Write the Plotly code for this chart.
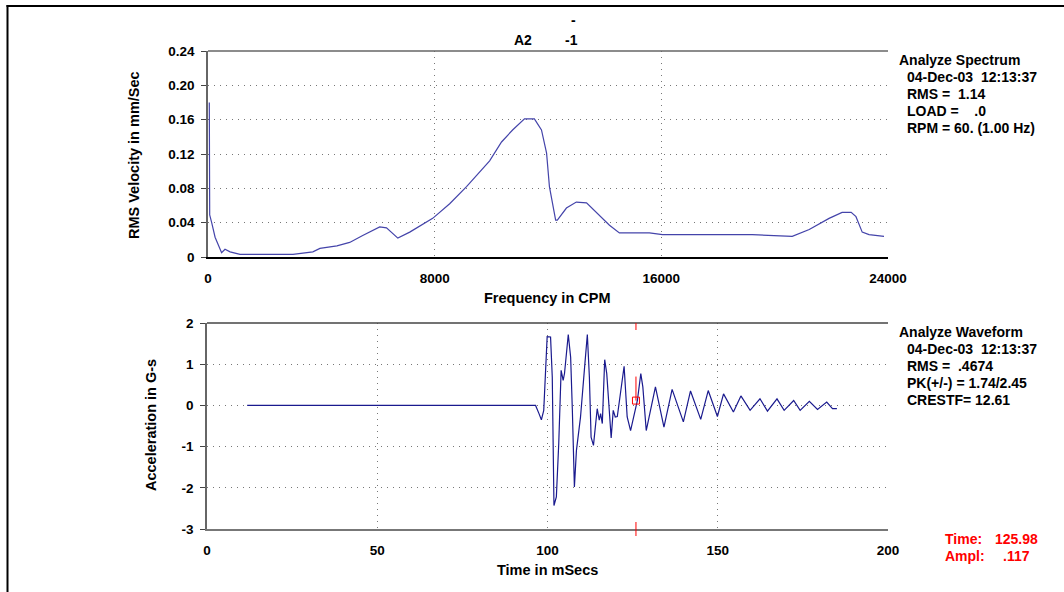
import plotly.graph_objects as go

# ---------------- data ----------------
spec_freq = [46, 47, 60, 130, 250, 480, 600, 780, 1130, 2000, 3000, 3700, 3950, 4550, 5000, 5460,
             6060, 6300, 6700, 7120, 7930, 8530, 9125, 9940, 10360, 10750, 11170, 11520, 11770,
             11950, 12050, 12270, 12330, 12650, 13000, 13360, 13810, 14170, 14520, 15120, 15580,
             16040, 19210, 20620, 21220, 21920, 22380, 22700, 22870, 23090, 23330, 23860]
spec_vel = [0.180, 0.115, 0.049, 0.040, 0.023, 0.005, 0.009, 0.006, 0.003, 0.003, 0.003, 0.006,
            0.010, 0.013, 0.017, 0.025, 0.035, 0.034, 0.022, 0.029, 0.045, 0.062, 0.082, 0.112,
            0.134, 0.148, 0.161, 0.161, 0.148, 0.121, 0.082, 0.043, 0.043, 0.057, 0.064, 0.063,
            0.049, 0.037, 0.028, 0.028, 0.028, 0.026, 0.026, 0.024, 0.032, 0.045, 0.052, 0.052,
            0.047, 0.029, 0.026, 0.024]

wave_time = [11.8, 96.5, 97.5, 98.2, 98.9, 99.4, 99.9, 100.9, 101.4, 101.9, 102.6, 103.3, 104.0,
             104.6, 105.0, 106.1, 106.8, 107.3, 107.9, 108.5, 109.7, 110.9, 111.7, 112.3, 112.8,
             113.5, 114.6, 115.2, 115.6, 116.1, 116.8, 117.4, 118.7, 119.3, 119.9, 120.5, 122.5,
             123.4, 124.4, 126.4, 127.4, 128.0, 129.0, 131.7, 134.2, 136.6, 139.9, 142.0, 145.0,
             147.2, 149.9, 151.7, 154.6, 156.8, 159.5, 162.4, 164.6, 167.4, 169.5, 172.3, 174.2,
             176.9, 179.3, 182.0, 183.7, 185.0]
wave_acc = [0.0, 0.0, -0.20, -0.35, -0.12, 0.69, 1.67, 1.66, 0.69, -2.43, -2.22, -0.93, 0.85,
            0.61, 0.78, 1.72, 1.17, -0.12, -1.98, -1.09, -0.28, 0.93, 1.72, 0.69, -0.77,
            -0.97, -0.08, -0.36, -0.20, -0.44, 1.11, 0.77, -0.79, -0.12, -0.28, -0.27, 0.95,
            -0.28, -0.61, 0.12, 0.77, 0.45, -0.61, 0.45, -0.53, 0.39, -0.40, 0.35, -0.34,
            0.36, -0.27, 0.28, -0.16, 0.23, -0.12, 0.16, -0.14, 0.16, -0.12, 0.12, -0.12,
            0.10, -0.10, 0.08, -0.08, -0.08]

spec_xticks = [0, 8000, 16000, 24000]
spec_xlabels = ["0", "8000", "16000", "24000"]
spec_yticks = [0, 0.04, 0.08, 0.12, 0.16, 0.20, 0.24]
spec_ylabels = ["0", "0.04", "0.08", "0.12", "0.16", "0.20", "0.24"]
wave_xticks = [0, 50, 100, 150, 200]
wave_xlabels = ["0", "50", "100", "150", "200"]
wave_yticks = [-3, -2, -1, 0, 1, 2]
wave_ylabels = ["-3", "-2", "-1", "0", "1", "2"]

cursor_time = 125.98
cursor_ampl = 0.117
cursor_line_top = 0.70

spec_info = ["Analyze Spectrum", "04-Dec-03  12:13:37", "RMS =  1.14", "LOAD =    .0",
             "RPM = 60. (1.00 Hz)"]
wave_info = ["Analyze Waveform", "04-Dec-03  12:13:37", "RMS =  .4674",
             "PK(+/-) = 1.74/2.45", "CRESTF= 12.61"]

# ---------------- layout helpers ----------------
W, H = 1064, 592
FONT = "Liberation Sans, Arial, sans-serif"


def px(x):
    return x / W


def py(y):
    return 1 - y / H


XL, XR = 208, 888
T1, B1 = 51, 257
T2, B2 = 323, 529

fig = go.Figure()
fig.add_trace(go.Scatter(x=spec_freq, y=spec_vel, mode="lines", xaxis="x", yaxis="y",
                         line=dict(color="#4444aa", width=1.2), hoverinfo="skip", showlegend=False))
fig.add_trace(go.Scatter(x=wave_time, y=wave_acc, mode="lines", xaxis="x2", yaxis="y2",
                         line=dict(color="#1a1a8e", width=1.2), hoverinfo="skip", showlegend=False))
# cursor marker
fig.add_trace(go.Scatter(x=[cursor_time, cursor_time], y=[cursor_ampl, cursor_line_top],
                         mode="lines", xaxis="x2", yaxis="y2",
                         line=dict(color="red", width=1), hoverinfo="skip", showlegend=False))
fig.add_trace(go.Scatter(x=[cursor_time], y=[cursor_ampl], mode="markers", xaxis="x2", yaxis="y2",
                         marker=dict(symbol="square-open", size=7, color="red", line=dict(width=1)),
                         hoverinfo="skip", showlegend=False))

tickfont = dict(family=FONT, size=13.5, color="black", weight="bold")
grid = dict(showgrid=True, gridcolor="#777777", gridwidth=1, griddash="1px,5px")
common = dict(automargin=False, zeroline=False)

fig.update_layout(
    width=W, height=H, margin=dict(l=0, r=0, t=0, b=0, autoexpand=False),
    paper_bgcolor="white", plot_bgcolor="white",
    xaxis=dict(domain=[px(XL), px(XR)], range=[0, 24000], anchor="y",
               tickvals=spec_xticks, ticktext=spec_xlabels, tickfont=tickfont,
               showline=True, linecolor="black", linewidth=1.5, ticks="",
               ticklabelstandoff=8, **grid, **common),
    yaxis=dict(domain=[py(B1), py(T1)], range=[0, 0.24], anchor="x",
               tickvals=spec_yticks, ticktext=spec_ylabels, tickfont=tickfont,
               showline=True, linecolor="#666666", linewidth=1.5, ticks="outside", ticklen=5,
               tickcolor="#444444", ticklabelstandoff=4, **grid, **common),
    yaxis3=dict(overlaying="y", side="right", anchor="x", range=[0, 0.24],
                tickvals=spec_yticks, showticklabels=False, showgrid=False,
                showline=True, linecolor="black", linewidth=1.5, ticks="outside", ticklen=5,
                tickcolor="black", **common),
    xaxis2=dict(domain=[px(XL - 1), px(XR)], range=[0, 200], anchor="y2",
                tickvals=wave_xticks, ticktext=wave_xlabels, tickfont=tickfont,
                showline=True, linecolor="#777777", linewidth=1.5, ticks="",
                ticklabelstandoff=8, **grid, **common),
    yaxis2=dict(domain=[py(B2), py(T2)], range=[-3, 2], anchor="x2",
                tickvals=wave_yticks, ticktext=wave_ylabels, tickfont=tickfont,
                showline=True, linecolor="#666666", linewidth=1.5, ticks="outside", ticklen=5,
                tickcolor="#444444", ticklabelstandoff=4, **grid, **common),
    yaxis4=dict(overlaying="y2", side="right", anchor="x2", range=[-3, 2],
                tickvals=wave_yticks, showticklabels=False, showgrid=False,
                showline=True, linecolor="black", linewidth=1.5, ticks="outside", ticklen=5,
                tickcolor="black", **common),
)

shapes = [
    # top borders of the plots
    dict(type="line", xref="x domain", yref="y domain", x0=0, x1=1, y0=1, y1=1,
         line=dict(color="#666666", width=1.5)),
    dict(type="line", xref="x2 domain", yref="y2 domain", x0=0, x1=1, y0=1, y1=1,
         line=dict(color="#444444", width=1.5)),
    # cursor ticks
    dict(type="line", xref="x2", yref="y2 domain", x0=cursor_time, x1=cursor_time,
         y0=1, y1=1 - 7 / (B2 - T2), line=dict(color="red", width=1)),
    dict(type="line", xref="x2", yref="y2 domain", x0=cursor_time, x1=cursor_time,
         y0=-7 / (B2 - T2), y1=7 / (B2 - T2), line=dict(color="red", width=1)),
    # outer frame
    dict(type="line", xref="paper", yref="paper", x0=px(7.5), x1=px(7.5), y0=0, y1=py(5),
         line=dict(color="black", width=2)),
    dict(type="line", xref="paper", yref="paper", x0=px(6.5), x1=1, y0=py(6), y1=py(6),
         line=dict(color="black", width=2)),
]
fig.update_layout(shapes=shapes)

ann = []


def text(s, x, y, xanchor="left", size=14, color="black", angle=0):
    ann.append(dict(text=s.replace(" ", "\u00a0"), x=px(x), y=py(y), xref="paper", yref="paper",
                    showarrow=False, xanchor=xanchor, yanchor="middle", textangle=angle,
                    font=dict(family=FONT, size=size, color=color, weight="bold")))


# title
text("-", 573, 20, xanchor="center")
text("A2", 523, 40, xanchor="center")
text("-1", 571, 40, xanchor="center")

# axis titles
text("RMS Velocity in mm/Sec", 134, 155, xanchor="center", size=14.5, angle=-90)
text("Frequency in CPM", 547, 298, xanchor="center", size=14.5)
text("Acceleration in G-s", 151, 425, xanchor="center", size=14.5, angle=-90)
text("Time in mSecs", 547, 570, xanchor="center", size=14.5)

# info blocks
for i, s in enumerate(spec_info):
    text(s, 897 if i == 0 else 905, 60 + 17 * i)
for i, s in enumerate(wave_info):
    text(s, 897 if i == 0 else 905, 332 + 17 * i)

# cursor readout
text("Time:", 943, 539, color="red")
text(f"{cursor_time:.2f}", 1040, 539, xanchor="right", color="red")
text("Ampl:", 943, 556, color="red")
text(f"{cursor_ampl:.3f}".lstrip("0"), 1032, 556, xanchor="right", color="red")

fig.update_layout(annotations=ann)
fig.write_html("out.html", config={"displayModeBar": False},
               post_script="document.body.style.margin='0';document.body.style.overflow='hidden';")
